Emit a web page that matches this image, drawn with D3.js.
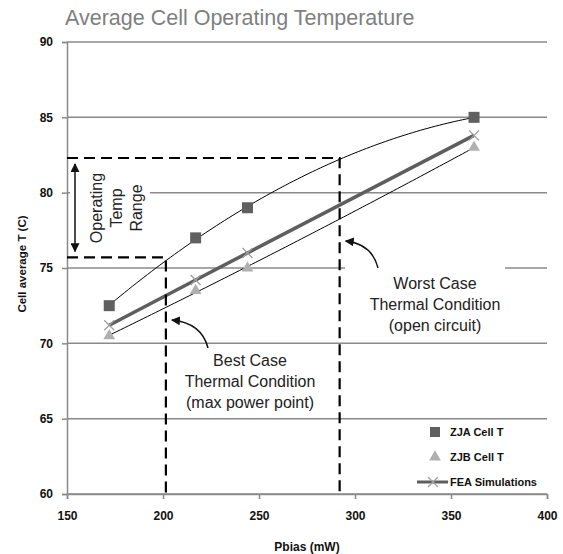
<!DOCTYPE html>
<html>
<head>
<meta charset="utf-8">
<script src="https://cdn.jsdelivr.net/npm/d3@7"></script>
<style>
  body { margin: 0; background: #fff; }
  svg { display: block; font-family: "Liberation Sans", Arial, sans-serif; }
</style>
</head>
<body>
<script>
const width = 563;
const height = 554;

// data
const pbias = [172, 217, 244, 362];
const zjaTemp = [72.5, 77, 79, 85];
const zjbTemp = [70.5, 73.5, 75, 83];
const feaTemp = [71.2, 74.2, 76, 83.8];
const xTicks = [150, 200, 250, 300, 350, 400];
const yTicks = [60, 65, 70, 75, 80, 85, 90];
const legendNames = ["ZJA Cell T", "ZJB Cell T", "FEA Simulations"];

// operating range markers
const bestX = 201.5, bestT = 75.7;
const worstX = 292, worstT = 82.3;

const x = d3.scaleLinear().domain([150, 400]).range([67, 547]);
const y = d3.scaleLinear().domain([60, 90]).range([494, 42]);

const svg = d3.select("body").append("svg")
  .attr("width", width)
  .attr("height", height);

const defs = svg.append("defs");
defs.append("marker")
  .attr("id", "arrow")
  .attr("viewBox", "0 0 10 10")
  .attr("refX", 9).attr("refY", 5)
  .attr("markerWidth", 9).attr("markerHeight", 9)
  .attr("markerUnits", "userSpaceOnUse")
  .attr("orient", "auto-start-reverse")
  .append("path")
  .attr("d", "M0,0L10,5L0,10z")
  .attr("fill", "#111");

svg.append("text")
  .attr("x", 65).attr("y", 25)
  .attr("font-size", 21.5)
  .attr("fill", "#7f7f7f")
  .text("Average Cell Operating Temperature");

// gridlines
svg.append("g")
  .selectAll("line")
  .data(yTicks)
  .join("line")
  .attr("x1", x(150)).attr("x2", x(400))
  .attr("y1", d => y(d)).attr("y2", d => y(d))
  .attr("stroke", "#8a8a8a")
  .attr("stroke-width", 1.5);

// axes
const yAxis = svg.append("g")
  .attr("transform", `translate(${x(150)},0)`)
  .call(d3.axisLeft(y).tickValues(yTicks).tickSize(5).tickPadding(9));
const xAxis = svg.append("g")
  .attr("transform", `translate(0,${y(60)})`)
  .call(d3.axisBottom(x).tickValues(xTicks).tickSize(5).tickPadding(12));
[yAxis, xAxis].forEach(g => {
  g.select(".domain").attr("stroke", "#8a8a8a").attr("stroke-width", 1.5);
  g.selectAll(".tick line").attr("stroke", "#8a8a8a").attr("stroke-width", 1.5);
  g.selectAll(".tick text")
    .attr("font-family", "'Liberation Sans', Arial, sans-serif")
    .attr("font-size", 12)
    .attr("font-weight", "bold")
    .attr("fill", "#111");
});

svg.append("text")
  .attr("transform", `translate(26,264) rotate(-90)`)
  .attr("text-anchor", "middle")
  .attr("font-size", 11.5)
  .attr("font-weight", "bold")
  .attr("fill", "#111")
  .text("Cell average T (C)");

svg.append("text")
  .attr("x", 307).attr("y", 551)
  .attr("text-anchor", "middle")
  .attr("font-size", 12)
  .attr("font-weight", "bold")
  .attr("fill", "#111")
  .text("Pbias (mW)");

// white boxes behind annotations
svg.append("rect").attr("x", 70).attr("y", 166).attr("width", 80).attr("height", 84).attr("fill", "#fff");
svg.append("rect").attr("x", 345).attr("y", 262).attr("width", 160).attr("height", 76).attr("fill", "#fff");

// quadratic least-squares trendline, like the spreadsheet's polynomial trend
function quadFit(xs, ys) {
  const s = k => d3.sum(xs, v => v ** k);
  const t = k => d3.sum(xs, (v, i) => v ** k * ys[i]);
  const A = [[s(4), s(3), s(2)], [s(3), s(2), s(1)], [s(2), s(1), xs.length]];
  const b = [t(2), t(1), t(0)];
  const det = m => m[0][0] * (m[1][1] * m[2][2] - m[1][2] * m[2][1])
    - m[0][1] * (m[1][0] * m[2][2] - m[1][2] * m[2][0])
    + m[0][2] * (m[1][0] * m[2][1] - m[1][1] * m[2][0]);
  const D = det(A);
  const coef = [0, 1, 2].map(c => det(A.map((row, r) => row.map((v, j) => (j === c ? b[r] : v)))) / D);
  return v => coef[0] * v * v + coef[1] * v + coef[2];
}

const trendLine = d3.line().x(d => x(d[0])).y(d => y(d[1]));
[zjaTemp, zjbTemp].forEach(temps => {
  const f = quadFit(pbias, temps);
  const pts = d3.range(pbias[0], pbias[3] + 0.1, 2).map(v => [v, f(v)]);
  svg.append("path")
    .attr("d", trendLine(pts))
    .attr("fill", "none")
    .attr("stroke", "#000")
    .attr("stroke-width", 1);
});

// FEA line
svg.append("path")
  .attr("d", d3.line().x((d, i) => x(pbias[i])).y(d => y(d))(feaTemp))
  .attr("fill", "none")
  .attr("stroke", "#5e5e5e")
  .attr("stroke-width", 3.5);

function crossPath(cx, cy, r) {
  return `M${cx - r},${cy - r}L${cx + r},${cy + r}M${cx - r},${cy + r}L${cx + r},${cy - r}`;
}
svg.append("g")
  .selectAll("path")
  .data(feaTemp)
  .join("path")
  .attr("d", (d, i) => crossPath(x(pbias[i]), y(d), 5))
  .attr("stroke", "#a0a0a0")
  .attr("stroke-width", 1.3);

// ZJA squares
svg.append("g")
  .selectAll("rect")
  .data(zjaTemp)
  .join("rect")
  .attr("x", (d, i) => x(pbias[i]) - 5.5)
  .attr("y", d => y(d) - 5.5)
  .attr("width", 11).attr("height", 11)
  .attr("fill", "#606060");

// ZJB triangles
const tri = d3.symbol().type(d3.symbolTriangle).size(60);
svg.append("g")
  .selectAll("path")
  .data(zjbTemp)
  .join("path")
  .attr("transform", (d, i) => `translate(${x(pbias[i])},${y(d)})`)
  .attr("d", tri)
  .attr("fill", "#b0b0b0");

// dashed operating range lines
const dash = g => g.attr("stroke", "#000").attr("stroke-width", 2.2).attr("stroke-dasharray", "11,6").attr("fill", "none");
svg.append("path")
  .attr("d", `M${x(150)},${y(worstT)}H${x(worstX)}V${y(60)}`)
  .call(dash);
svg.append("path")
  .attr("d", `M${x(150)},${y(bestT)}H${x(bestX)}V${y(60)}`)
  .call(dash);

// double arrow for operating temp range
svg.append("line")
  .attr("x1", 75).attr("x2", 75)
  .attr("y1", y(worstT) + 6).attr("y2", y(bestT) - 6)
  .attr("stroke", "#111").attr("stroke-width", 1.5)
  .attr("marker-start", "url(#arrow)")
  .attr("marker-end", "url(#arrow)");

svg.append("text")
  .attr("transform", "translate(116,208) rotate(-90)")
  .attr("text-anchor", "middle")
  .attr("font-size", 16)
  .attr("fill", "#222")
  .selectAll("tspan")
  .data(["Operating", "Temp", "Range"])
  .join("tspan")
  .attr("x", 0)
  .attr("y", (d, i) => (i - 1) * 20 + 6)
  .text(d => d);

function note(lines, cx, cy) {
  svg.append("text")
    .attr("text-anchor", "middle")
    .attr("font-size", 16)
    .attr("fill", "#222")
    .selectAll("tspan")
    .data(lines)
    .join("tspan")
    .attr("x", cx)
    .attr("y", (d, i) => cy + i * 21)
    .text(d => d);
}
note(["Worst Case", "Thermal Condition", "(open circuit)"], 435, 289);
note(["Best Case", "Thermal Condition", "(max power point)"], 250, 366);

svg.append("path")
  .attr("d", `M378,268 C374,252 364,243 ${x(worstX) + 6},241`)
  .attr("fill", "none").attr("stroke", "#111").attr("stroke-width", 1.5)
  .attr("marker-end", "url(#arrow)");
svg.append("path")
  .attr("d", `M208,348 C204,332 192,322 ${x(bestX) + 6},320`)
  .attr("fill", "none").attr("stroke", "#111").attr("stroke-width", 1.5)
  .attr("marker-end", "url(#arrow)");

// legend
const legend = svg.append("g").attr("transform", "translate(417,432)");
const item = legend.selectAll("g")
  .data(legendNames)
  .join("g")
  .attr("transform", (d, i) => `translate(0,${i * 25})`);
item.append("text")
  .attr("x", 33).attr("y", 4)
  .attr("font-size", 11)
  .attr("font-weight", "bold")
  .attr("fill", "#111")
  .text(d => d);
legend.append("rect").attr("x", 13).attr("y", -5).attr("width", 10).attr("height", 10).attr("fill", "#606060");
legend.append("path").attr("transform", "translate(18,25)").attr("d", tri).attr("fill", "#b0b0b0");
legend.append("line").attr("x1", 0).attr("x2", 31).attr("y1", 50).attr("y2", 50)
  .attr("stroke", "#5e5e5e").attr("stroke-width", 3);
legend.append("path").attr("d", crossPath(16, 50, 5)).attr("stroke", "#a0a0a0").attr("stroke-width", 1.3);
</script>
</body>
</html>
